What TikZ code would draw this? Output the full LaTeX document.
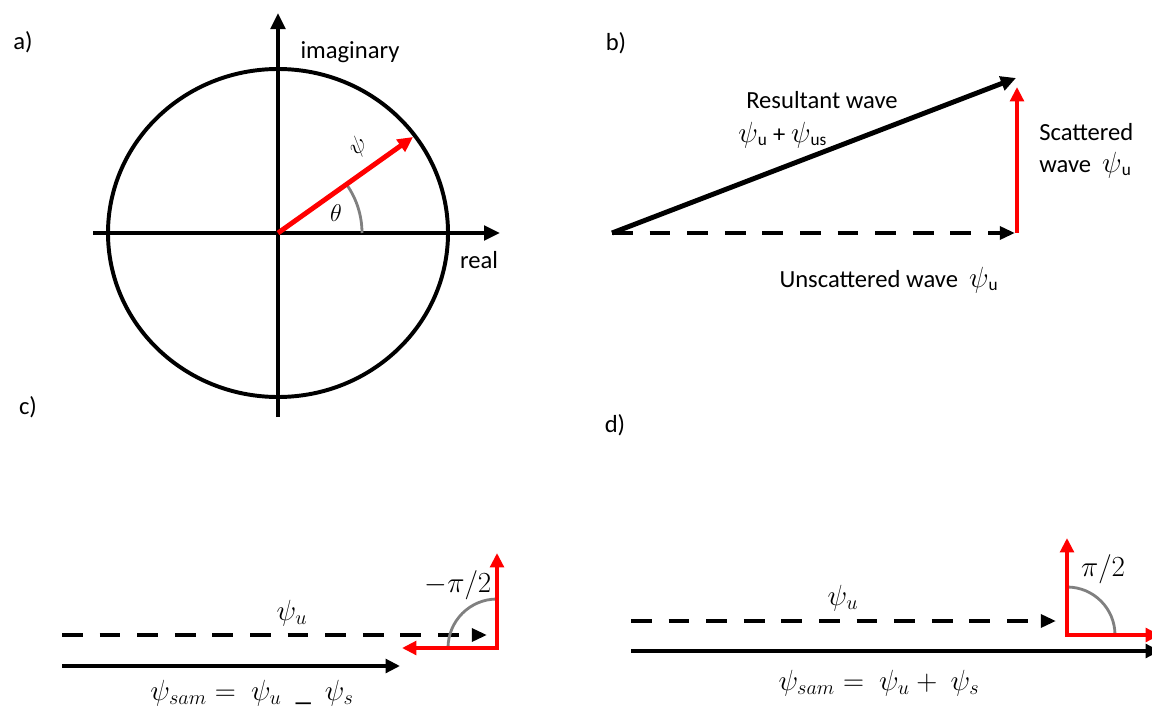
\documentclass[tikz,border=0pt]{standalone}
\usepackage{fontspec}
\setmainfont{Carlito}
\usetikzlibrary{arrows.meta}
\newcommand{\wpsi}{{\fontsize{21}{24}\selectfont$\psi$}}

\begin{document}
\begin{tikzpicture}[
    x=0.025cm, y=-0.025cm,
    lbl/.style={font=\fontsize{17.5}{21}\selectfont, inner sep=0pt},
    mlbl/.style={font=\fontsize{22}{26}\selectfont, inner sep=0pt},
    axis/.style={line width=3.5pt, -{Triangle[length=0.4cm, width=0.36cm]}},
    vec/.style={line width=3.5pt, -{Triangle[length=0.38cm, width=0.36cm]}},
    vecthin/.style={line width=2.8pt, -{Triangle[length=0.36cm, width=0.34cm]}},
    dashvec/.style={line width=2.8pt, dash pattern=on 0.52cm off 0.42cm, -{Triangle[length=0.38cm, width=0.32cm]}},
    rightangle/.style={red, line width=2.8pt, line join=miter, {Triangle[length=0.36cm, width=0.34cm]}-{Triangle[length=0.36cm, width=0.34cm]}},
    ang/.style={gray, line width=2pt},
]
\useasboundingbox (0,0) rectangle (1152,709);

% a) complex plane
\coordinate (O) at (278,233);
\coordinate (imTop) at (278,13);
\coordinate (imBot) at (278,417);
\coordinate (reL) at (93,233);
\coordinate (reR) at (500,233);
\coordinate (psiTip) at (413,137);
\draw[line width=2.8pt] (O) ellipse [x radius=170, y radius=164];
\draw[axis] (imBot) -- (imTop);
\draw[axis] (reL) -- (reR);
\draw[ang] (O) ++(84,0) arc[start angle=0, end angle=-35, radius=84];
\draw[vec, red] (O) -- (psiTip);
\node[lbl] (labA) at (23,42) {a)};
\node[lbl] (imLbl) at (350,52) {imaginary};
\node[lbl] (reLbl) at (479,260) {real};
\node[mlbl, font=\fontsize{19}{22}\selectfont] (thLbl) at (336,213) {$\theta$};
\node[mlbl, font=\fontsize{19}{22}\selectfont, rotate=35] (psiLbl) at (358,147) {$\psi$};

% b) wave triangle
\coordinate (bO) at (612,233);
\coordinate (bU) at (1015,233);
\coordinate (bR) at (1016,78);
\coordinate (bS0) at (1017,233);
\coordinate (bS) at (1017,87);
\draw[dashvec, line width=3.5pt] (bO) -- (bU);
\draw[vec] (bO) -- (bR);
\draw[vecthin, red] (bS0) -- (bS);
\node[lbl] (labB) at (616,43) {b)};
\node[lbl] (resLbl) at (822,100) {Resultant wave};
\node[lbl, anchor=west] (sumLbl) at (738,135) {\wpsi\textsubscript{u} + \wpsi\textsubscript{us}};
\node[lbl, anchor=west] (scLbl) at (1039,132) {Scattered};
\node[lbl, anchor=west] (scwLbl) at (1039,165) {wave\ \ \wpsi\textsubscript{u}};
\node[lbl] (unLbl) at (889,280) {Unscattered wave\ \ \wpsi\textsubscript{u}};

% c) phase -pi/2
\coordinate (cD0) at (62,635);
\coordinate (cD1) at (487,635);
\coordinate (cS0) at (62,666);
\coordinate (cS1) at (400,666);
\coordinate (cC) at (497,648);
\coordinate (cUp) at (497,553);
\coordinate (cL) at (402,648);
\draw[dashvec] (cD0) -- (cD1);
\draw[vecthin] (cS0) -- (cS1);
\draw[ang] (cC) ++(0,-49) arc[start angle=-90, end angle=-180, radius=49];
\draw[rightangle] (cL) -- (cC) -- (cUp);
\node[lbl] (labC) at (28,407) {c)};
\node[mlbl] (cPsi) at (292,613) {$\psi_u$};
\node[mlbl] (cAng) at (458,585) {$-\pi/2$};
\node[mlbl] (cSum) at (252,693) {$\psi_{sam} = \ \psi_u\ \ \_\ \ \psi_s$};

% d) phase pi/2
\coordinate (dD0) at (631,621);
\coordinate (dD1) at (1056,621);
\coordinate (dS0) at (631,651);
\coordinate (dS1) at (1160,651);
\coordinate (dC) at (1067,635);
\coordinate (dUp) at (1067,538);
\coordinate (dR) at (1160,635);
\draw[dashvec] (dD0) -- (dD1);
\draw[vecthin] (dS0) -- (dS1);
\draw[ang] (dC) ++(48,0) arc[start angle=0, end angle=-90, radius=48];
\draw[rightangle] (dUp) -- (dC) -- (dR);
\node[lbl] (labD) at (615,425) {d)};
\node[mlbl] (dPsi) at (843,598) {$\psi_u$};
\node[mlbl] (dAng) at (1103,569) {$\pi/2$};
\node[mlbl] (dSum) at (879,683) {$\psi_{sam} = \ \psi_u + \ \psi_s$};
\end{tikzpicture}
\end{document}
